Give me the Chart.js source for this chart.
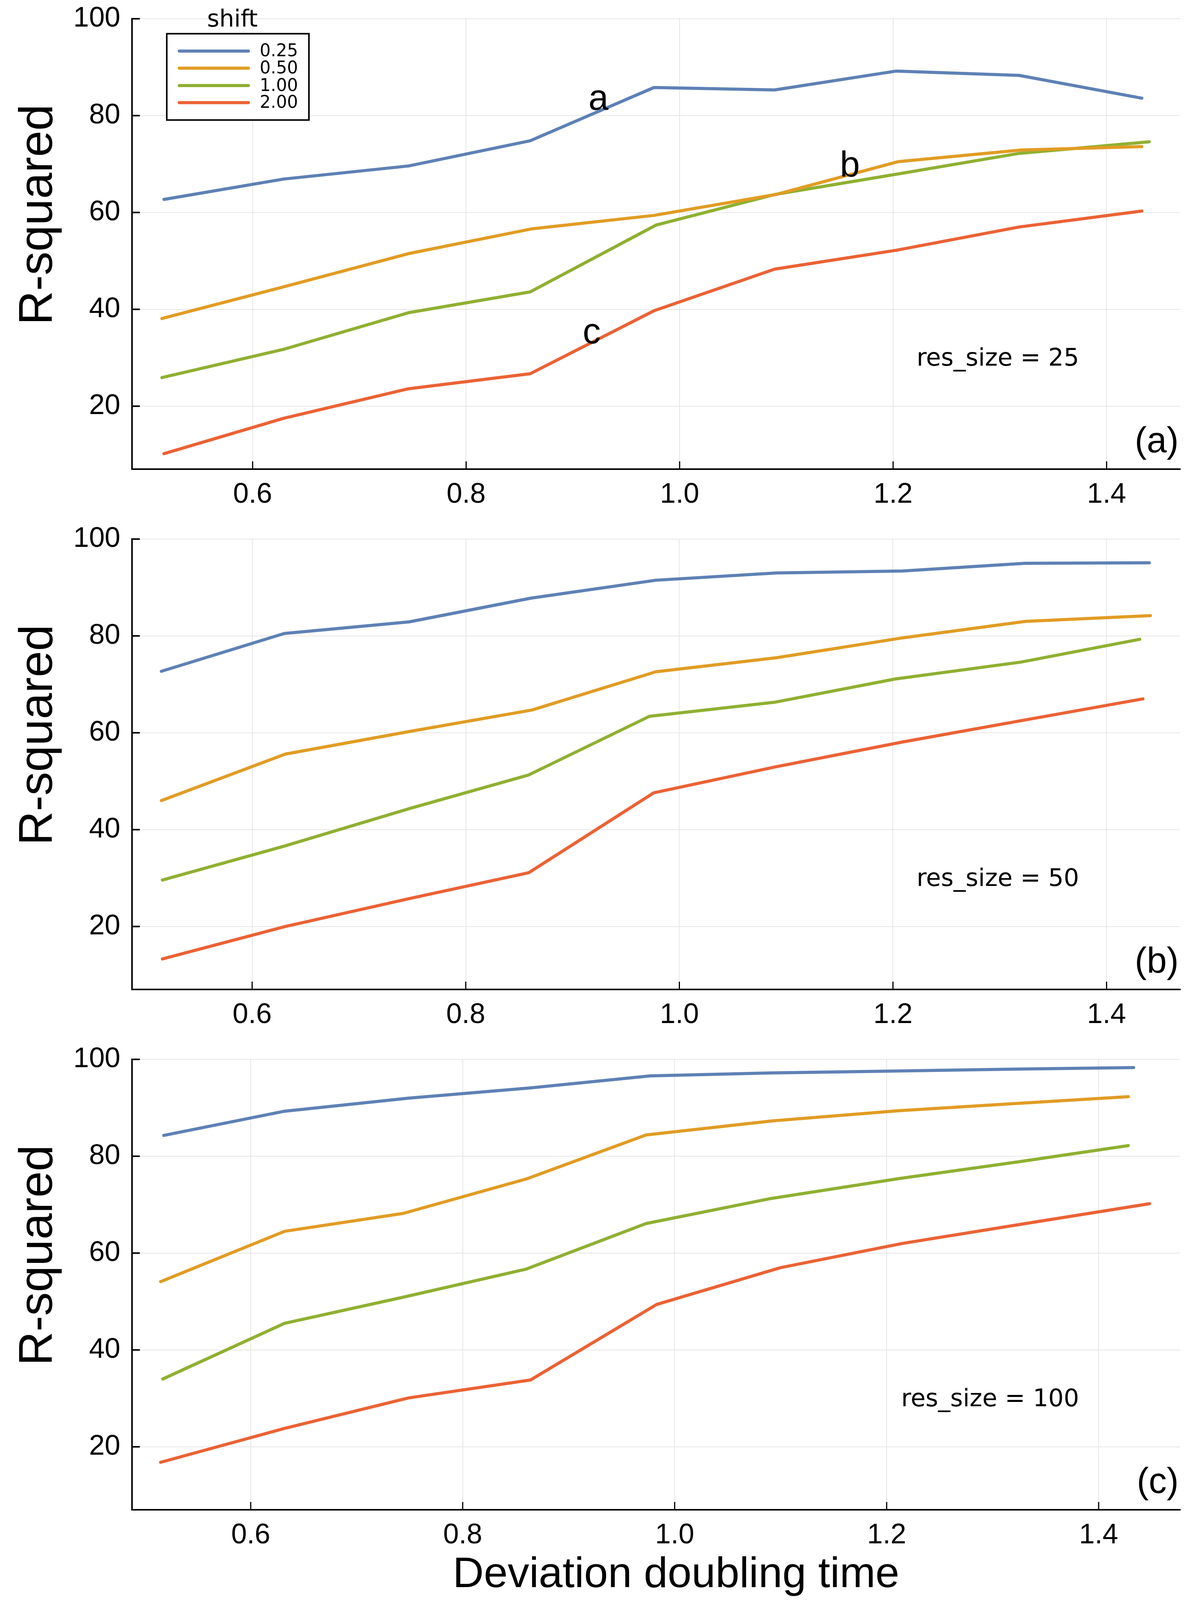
<!DOCTYPE html>
<html><head><meta charset="utf-8">
<script src="https://cdn.jsdelivr.net/npm/chart.js@4.4.1/dist/chart.umd.min.js"></script>
<style>
html,body{margin:0;padding:0;background:#fff;overflow:hidden;}
#wrap{position:relative;width:3070px;background:#fff;overflow:hidden;}
canvas{position:absolute;left:0;display:block;}
</style></head><body>
<div id="wrap">
<canvas id="pa"></canvas>
<canvas id="pb"></canvas>
<canvas id="pc"></canvas>
</div>
<script>
// ---------- data ----------
const seriesNames = ['0.25', '0.50', '1.00', '2.00'];
const seriesColors = ['#5E81B5', '#E19C24', '#8FB032', '#EB6235'];
const xTicks = [0.6, 0.8, 1.0, 1.2, 1.4];
const yTicks = [20, 40, 60, 80, 100];
const resSizes = ['25', '50', '100'];
const panelLetters = ['(a)', '(b)', '(c)'];
const xMins = [0.487, 0.4875, 0.488];
const xMaxs = [1.469, 1.469, 1.477];
const yMin = 7, yMax = 100;

// panel (a): res_size = 25
const a_x025 = [0.517, 0.629, 0.746, 0.860, 0.976, 1.089, 1.203, 1.318, 1.433];
const a_y025 = [62.7, 66.9, 69.6, 74.8, 85.8, 85.3, 89.2, 88.3, 83.6];
const a_x050 = [0.515, 0.630, 0.746, 0.861, 0.976, 1.090, 1.205, 1.320, 1.433];
const a_y050 = [38.1, 44.7, 51.5, 56.6, 59.4, 63.7, 70.5, 72.9, 73.6];
const a_x100 = [0.515, 0.630, 0.746, 0.860, 0.978, 1.089, 1.203, 1.318, 1.440];
const a_y100 = [25.9, 31.8, 39.3, 43.6, 57.4, 63.7, 67.9, 72.2, 74.6];
const a_x200 = [0.517, 0.629, 0.746, 0.860, 0.976, 1.089, 1.203, 1.318, 1.433];
const a_y200 = [10.2, 17.5, 23.6, 26.7, 39.7, 48.3, 52.2, 57.0, 60.3];

// panel (b): res_size = 50
const b_x025 = [0.515, 0.630, 0.747, 0.861, 0.978, 1.091, 1.209, 1.324, 1.440];
const b_y025 = [72.7, 80.5, 82.9, 87.8, 91.5, 93.0, 93.4, 95.0, 95.1];
const b_x050 = [0.515, 0.631, 0.748, 0.862, 0.978, 1.091, 1.209, 1.324, 1.441];
const b_y050 = [46.0, 55.6, 60.3, 64.7, 72.6, 75.5, 79.6, 83.0, 84.2];
const b_x100 = [0.516, 0.630, 0.748, 0.859, 0.972, 1.089, 1.202, 1.320, 1.431];
const b_y100 = [29.6, 36.6, 44.4, 51.3, 63.4, 66.3, 71.1, 74.6, 79.3];
const b_x200 = [0.516, 0.631, 0.748, 0.859, 0.976, 1.091, 1.209, 1.320, 1.434];
const b_y200 = [13.3, 20.0, 25.8, 31.1, 47.6, 53.0, 58.1, 62.5, 67.0];

// panel (c): res_size = 100
const c_x025 = [0.518, 0.632, 0.749, 0.863, 0.977, 1.090, 1.210, 1.325, 1.433];
const c_y025 = [84.3, 89.3, 92.0, 94.1, 96.6, 97.2, 97.6, 98.0, 98.3];
const c_x050 = [0.515, 0.632, 0.744, 0.860, 0.973, 1.092, 1.211, 1.323, 1.428];
const c_y050 = [54.1, 64.5, 68.2, 75.3, 84.4, 87.3, 89.4, 90.9, 92.3];
const c_x100 = [0.517, 0.632, 0.744, 0.860, 0.973, 1.089, 1.212, 1.323, 1.428];
const c_y100 = [34.0, 45.5, 50.9, 56.7, 66.1, 71.2, 75.4, 78.8, 82.2];
const c_x200 = [0.515, 0.632, 0.749, 0.864, 0.983, 1.100, 1.215, 1.331, 1.448];
const c_y200 = [16.8, 23.8, 30.1, 33.8, 49.4, 57.0, 62.0, 66.1, 70.2];

// curve labels in panel (a), placed in data coordinates
const curveLabels = [
  { text: 'a', x: 0.924, y: 81.2 },
  { text: 'b', x: 1.1595, y: 67.4 },
  { text: 'c', x: 0.9176, y: 33.0 }
];

// ---------- layout ----------
const FULL_W = 3070, FULL_H = 4597;
const VH = window.innerHeight || FULL_H;
const F = Math.min(1, VH / FULL_H);          // vertical fit factor (1 when the full height is available)
const PANEL_TOPS = [0, 1495, 2990].map(v => Math.round(v * F));
const PANEL_HS = [1495, 1495, 1607].map(v => Math.round(v * F));
const AREA = { left: 338, top: Math.round(54 * F), right: 3022, bottom: Math.round(1348 * F) };
document.getElementById('wrap').style.height = Math.round(FULL_H * F) + 'px';

const HELV = '"Liberation Sans", Arial, Helvetica, sans-serif';
const DEJA = '"DejaVu Sans", sans-serif';

function pts(xs, ys) { return xs.map((x, i) => ({ x: x, y: ys[i] })); }

const extrasPlugin = {
  id: 'extras',
  afterDraw(chart, args, o) {
    const ctx = chart.ctx, ca = chart.chartArea;
    const xs = chart.scales.x, ys = chart.scales.y;
    ctx.save();
    // inward tick marks
    ctx.strokeStyle = '#000';
    ctx.lineCap = 'butt';
    ctx.lineWidth = 4;
    yTicks.forEach(v => {
      const py = ys.getPixelForValue(v);
      ctx.beginPath(); ctx.moveTo(ca.left, py); ctx.lineTo(ca.left + 20, py); ctx.stroke();
    });
    ctx.lineWidth = 3;
    xTicks.forEach(v => {
      const px = xs.getPixelForValue(v);
      ctx.beginPath(); ctx.moveTo(px, ca.bottom); ctx.lineTo(px, ca.bottom - 20); ctx.stroke();
    });
    ctx.fillStyle = '#000';
    // y axis title
    ctx.save();
    ctx.translate(ca.left - 205, ca.top + 563 * F);
    ctx.rotate(-Math.PI / 2);
    ctx.font = '121px ' + HELV;
    ctx.textAlign = 'center'; ctx.textBaseline = 'alphabetic';
    ctx.fillText('R-squared', 0, 0);
    ctx.restore();
    // res_size text
    ctx.font = '62px ' + DEJA;
    ctx.textAlign = 'right'; ctx.textBaseline = 'alphabetic';
    ctx.fillText('res_size = ' + o.size, ca.right - 259, ca.top + 997 * F);
    // panel letter
    ctx.font = '92px ' + HELV;
    ctx.textAlign = 'right';
    ctx.fillText(o.letter, ca.right - 4, ca.bottom - 48 * F);
    // curve labels
    if (o.labels) {
      ctx.textAlign = 'center';
      o.labels.forEach(l => {
        ctx.fillText(l.text, xs.getPixelForValue(l.x), ys.getPixelForValue(l.y));
      });
    }
    // legend
    if (o.legend) {
      const bx = ca.left + 89, by = ca.top + 43 * F, bw = 364, bh = 248 * F;
      ctx.fillStyle = '#fff';
      ctx.fillRect(bx, by, bw, bh);
      ctx.strokeStyle = '#000'; ctx.lineWidth = 4;
      ctx.strokeRect(bx, by, bw, bh);
      ctx.fillStyle = '#000';
      ctx.font = '60px ' + DEJA;
      ctx.textAlign = 'center'; ctx.textBaseline = 'alphabetic';
      ctx.fillText('shift', ca.left + 257, ca.top + 23 * F);
      const rows = [50, 99, 149, 198];
      ctx.font = '44px ' + DEJA;
      ctx.textAlign = 'left'; ctx.textBaseline = 'middle';
      seriesNames.forEach((n, i) => {
        const yy = by + rows[i] * F;
        ctx.strokeStyle = seriesColors[i]; ctx.lineWidth = 8; ctx.lineCap = 'round';
        ctx.beginPath(); ctx.moveTo(ca.left + 121, yy); ctx.lineTo(ca.left + 298, yy); ctx.stroke();
        ctx.fillStyle = '#000';
        ctx.fillText(n, ca.left + 327, yy + 2);
      });
    }
    // x axis title
    if (o.xtitle) {
      ctx.fillStyle = '#000';
      ctx.font = '110px ' + HELV;
      ctx.textAlign = 'center'; ctx.textBaseline = 'alphabetic';
      ctx.fillText('Deviation doubling time', ca.left + 1393, ca.bottom + 222 * F);
    }
    ctx.restore();
  }
};

function zeroPad(s) { s.paddingTop = 0; s.paddingBottom = 0; s.paddingLeft = 0; s.paddingRight = 0; }

function makeChart(id, idx, xsArr, ysArr, extra) {
  const canvasH = PANEL_HS[idx];
  const cv = document.getElementById(id);
  cv.width = FULL_W; cv.height = canvasH;
  cv.style.top = PANEL_TOPS[idx] + 'px';
  cv.style.width = FULL_W + 'px'; cv.style.height = canvasH + 'px';
  const datasets = xsArr.map((xs, i) => ({
    label: seriesNames[i],
    data: pts(xs, ysArr[i]),
    borderColor: seriesColors[i],
    backgroundColor: seriesColors[i],
    borderWidth: 8,
    pointRadius: 0,
    tension: 0,
    fill: false,
    borderJoinStyle: 'round',
    borderCapStyle: 'round'
  }));
  return new Chart(cv, {
    type: 'line',
    data: { datasets: datasets },
    options: {
      responsive: false,
      devicePixelRatio: 1,
      animation: false,
      layout: { padding: { left: 0, top: AREA.top, right: FULL_W - AREA.right, bottom: 0 } },
      plugins: {
        legend: { display: false },
        tooltip: { enabled: false },
        extras: Object.assign({ letter: panelLetters[idx], size: resSizes[idx] }, extra)
      },
      scales: {
        x: {
          type: 'linear', min: xMins[idx], max: xMaxs[idx],
          afterBuildTicks: s => { s.ticks = xTicks.map(v => ({ value: v })); },
          afterFit: s => { s.height = canvasH - AREA.bottom; zeroPad(s); },
          ticks: {
            font: { family: HELV, size: 72 }, color: '#000', padding: Math.round(26 * F),
            maxRotation: 0, autoSkip: false,
            callback: v => Number(v).toFixed(1)
          },
          grid: { color: '#e6e6e6', lineWidth: 2, drawTicks: false },
          border: { display: true, color: '#000', width: 4 }
        },
        y: {
          type: 'linear', min: yMin, max: yMax,
          afterBuildTicks: s => { s.ticks = yTicks.map(v => ({ value: v })); },
          afterFit: s => { s.width = AREA.left; zeroPad(s); },
          ticks: {
            font: { family: HELV, size: 72 }, color: '#000', padding: 30,
            autoSkip: false,
            callback: v => String(v)
          },
          grid: { color: '#e6e6e6', lineWidth: 2, drawTicks: false },
          border: { display: true, color: '#000', width: 4 }
        }
      }
    },
    plugins: [extrasPlugin]
  });
}

makeChart('pa', 0, [a_x025, a_x050, a_x100, a_x200], [a_y025, a_y050, a_y100, a_y200],
  { legend: true, labels: curveLabels });
makeChart('pb', 1, [b_x025, b_x050, b_x100, b_x200], [b_y025, b_y050, b_y100, b_y200], {});
makeChart('pc', 2, [c_x025, c_x050, c_x100, c_x200], [c_y025, c_y050, c_y100, c_y200],
  { xtitle: true });
</script>
</body></html>
